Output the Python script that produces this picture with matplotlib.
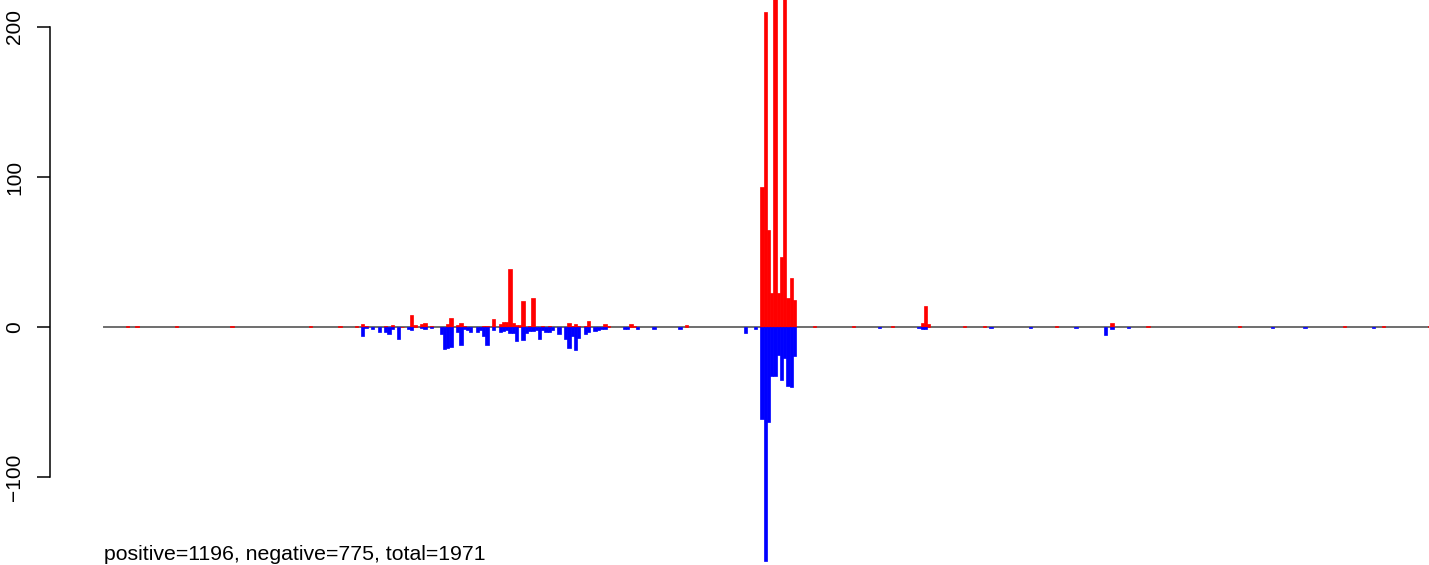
import matplotlib
matplotlib.use('Agg')
import matplotlib.pyplot as plt

plt.rcParams['font.family'] = ['Liberation Sans', 'DejaVu Sans']

# 分箱数量
n_bins = 405

# 正值（红色）：分箱序号与数值
pos_bins = [6, 9, 21, 38, 62, 71, 76, 78, 79, 85, 87, 90, 93, 94, 96, 97, 99, 102,
            104, 105, 107, 108, 109, 114, 115, 116, 118, 120, 121, 122, 123, 124,
            125, 126, 127, 129, 130, 133, 135, 140, 141, 142, 143, 144, 146, 147,
            152, 153, 160, 161, 177,
            200, 201, 202, 203, 204, 205, 206, 207, 208, 209, 210,
            216, 228, 240, 249, 250, 251, 262, 268, 290, 307, 318, 346, 378, 390, 404]
pos_vals = [0.4, 0.4, 0.4, 0.4, 0.4, 0.7, 0.7, 2, 1, 0.7, 1.3, 0.3, 8, 1.3, 2, 2.7, 0.7, 0.3,
            2, 6, 1.3, 2.7, 0.7, 0.3, 0.5, 0.7, 5.4, 2, 3.3, 3.3, 39, 2.7,
            1.3, 1.3, 17.4, 0.7, 19.4, 0.7, 1, 0.3, 2.7, 0.7, 2, 0.7, 0.7, 4,
            2, 0.7, 2, 0.7, 1.3,
            93.4, 210, 64.4, 22.7, 260, 22.7, 46.8, 240, 19.4, 32.8, 18,
            0.4, 0.4, 0.4, 2.7, 14, 2, 0.4, 0.4, 0.7, 2.7, 0.4, 0.4, 0.4, 0.4, 0.4]

# 负值（蓝色）：分箱序号与数值
neg_bins = [78, 79, 81, 83, 85, 86, 87, 89, 92, 93, 96, 97, 99, 102, 103, 104, 105,
            107, 108, 109, 110, 111, 113, 114, 115, 116, 118, 120, 121, 122, 123,
            124, 125, 127, 128, 129, 130, 131, 132, 133, 134, 135, 136, 138, 140,
            141, 142, 143, 144, 146, 147, 149, 150, 151, 152, 158, 159, 162, 167,
            175, 195, 198,
            200, 201, 202, 203, 204, 205, 206, 207, 208, 209, 210,
            236, 248, 249, 250, 270, 282, 296, 305, 307, 312, 356, 366, 387]
neg_vals = [-5.8, -0.7, -1.3, -3, -3, -4.5, -1.3, -8, -1.3, -2, -0.5, -1.3, -0.7, -4.5, -14.7, -14, -13.4,
            -3.3, -12, -1, -2, -3.3, -3.3, -2, -6, -12, -2, -3.3, -2.7, -2, -4,
            -4, -9.4, -8.7, -4, -2.5, -2.7, -2, -8, -2, -3.3, -3.3, -2, -4.7, -8,
            -14, -6, -15.4, -7.4, -4.7, -3.3, -2.7, -2, -1.3, -1.3, -1.3, -1.3, -1.3, -1.3,
            -1.3, -4, -1.3,
            -61.5, -156, -63.5, -32.6, -32.6, -18.6, -35.4, -20.7, -39.4, -40, -19.4,
            -0.4, -0.7, -1.3, -1.3, -0.4, -0.4, -0.4, -5.4, -1.3, -0.4, -0.4, -0.4, -0.4]

positive, negative = 1196, 775
total = positive + negative

W, H = 1429, 565
fig = plt.figure(figsize=(W / 100, H / 100), dpi=100)
ax = fig.add_axes([50 / W, 0, 1 - 50 / W, 1])

px_per_bin = 1325 / n_bins
ax.set_xlim(-54 / px_per_bin, n_bins)
ax.set_ylim(-238 / 1.5, 327 / 1.5)

# 基线
ax.plot([0, n_bins], [0, 0], color='#6e6e6e', lw=1.4, zorder=1)
ax.bar([b + 0.6 for b in pos_bins], pos_vals, width=1, align='edge',
       color='#ff0000', edgecolor='#ff0000', linewidth=0.5, zorder=2)
ax.bar([b + 0.6 for b in neg_bins], neg_vals, width=1, align='edge',
       color='#0000ff', edgecolor='#0000ff', linewidth=0.5, zorder=2)

for s in ['top', 'right', 'bottom']:
    ax.spines[s].set_visible(False)
ax.spines['left'].set_bounds(-100, 200)
ax.spines['left'].set_linewidth(1.1)
ax.set_xticks([])
ax.set_yticks([-100, 0, 100, 200])
ax.tick_params(axis='y', length=9.4, width=1.1, pad=9, labelsize=15)
for lab in ax.get_yticklabels():
    lab.set_rotation(90)
    lab.set_va('center')

fig.text(104 / W, 1 - 560 / H,
         'positive=%d, negative=%d, total=%d' % (positive, negative, total),
         fontsize=15.3, ha='left', va='baseline')

fig.savefig('out.png', dpi=100)
